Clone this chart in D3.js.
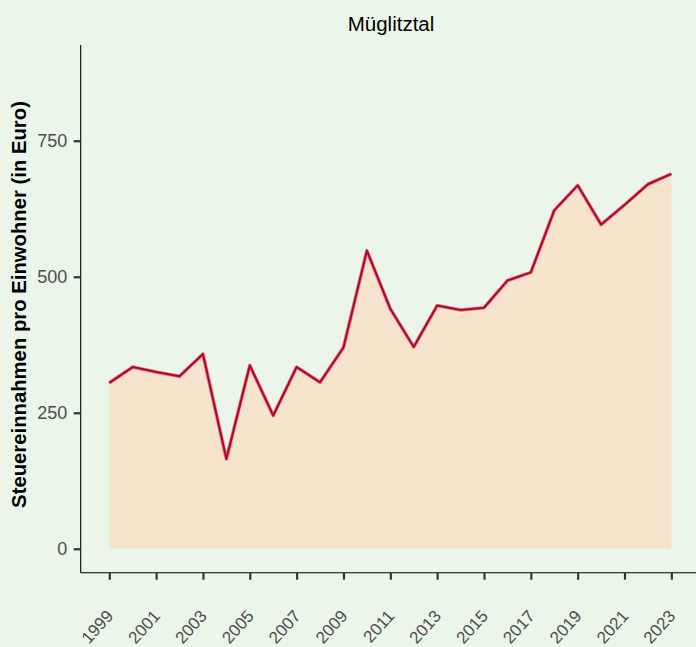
<!DOCTYPE html>
<html>
<head>
<meta charset="utf-8">
<script src="https://cdn.jsdelivr.net/npm/d3@7"></script>
<style>
  body { margin: 0; background: #ecf5ea; }
  svg { display: block; font-family: "Liberation Sans", Arial, sans-serif; }
</style>
</head>
<body>
<svg width="696" height="647"></svg>
<script>
// Steuereinnahmen pro Einwohner, Müglitztal
var years = [1999, 2000, 2001, 2002, 2003, 2004, 2005, 2006, 2007, 2008, 2009, 2010, 2011,
             2012, 2013, 2014, 2015, 2016, 2017, 2018, 2019, 2020, 2021, 2022, 2023];
var values = [305, 334, 325, 317, 358, 165, 337, 245, 334, 306, 370, 548, 441,
              371, 447, 439, 443, 493, 508, 622, 668, 596, 632, 670, 689];
var yTicks = [0, 250, 500, 750];
var xTicks = [1999, 2001, 2003, 2005, 2007, 2009, 2011, 2013, 2015, 2017, 2019, 2021, 2023];

var data = years.map(function(y, i) { return { year: y, value: values[i] }; });

var svg = d3.select("svg"),
    width = +svg.attr("width"),
    height = +svg.attr("height");

var plotLeft = 80.7, plotTop = 45, plotBottom = 572.7;

// ggplot style 5% expansion on both axes
var x = d3.scaleLinear().domain([1997.78, 2024.22]).range([plotLeft, plotLeft + 26.44 * 23.42]);
var y = d3.scaleLinear().domain([-44, 926]).range([plotBottom, plotTop]);

svg.append("rect")
    .attr("width", width)
    .attr("height", height)
    .attr("fill", "#ecf5ea");

var area = d3.area()
    .x(function(d) { return x(d.year); })
    .y0(y(0))
    .y1(function(d) { return y(d.value); });

var line = d3.line()
    .x(function(d) { return x(d.year); })
    .y(function(d) { return y(d.value); });

svg.append("path")
    .datum(data)
    .attr("d", area)
    .attr("fill", "#f5e3cc");

// soft halo under the line
svg.append("path")
    .datum(data)
    .attr("d", line)
    .attr("fill", "none")
    .attr("stroke", "#e07a8a")
    .attr("stroke-width", 3.6)
    .attr("stroke-linejoin", "round");

svg.append("path")
    .datum(data)
    .attr("d", line)
    .attr("fill", "none")
    .attr("stroke", "#b0052b")
    .attr("stroke-width", 2)
    .attr("stroke-linejoin", "round");

// axes
var yAxis = svg.append("g")
    .attr("transform", "translate(" + plotLeft + ",0)")
    .call(d3.axisLeft(y).tickValues(yTicks).tickSize(7).tickPadding(6.5));

var xAxis = svg.append("g")
    .attr("transform", "translate(0," + plotBottom + ")")
    .call(d3.axisBottom(x).tickValues(xTicks).tickSize(7).tickFormat(d3.format("d")));

[yAxis, xAxis].forEach(function(g) {
    g.select(".domain").attr("stroke", "#000").attr("stroke-width", 1.1);
    g.selectAll(".tick line").attr("stroke", "#333").attr("stroke-width", 2.2);
    g.selectAll(".tick text")
        .attr("fill", "#4d4d4d")
        .style("font-size", "18px")
        .style("font-family", "'Liberation Sans', Arial, sans-serif");
});

// domain path reaches the axis ends without outer ticks
yAxis.select(".domain").attr("d", "M0," + plotBottom + "V" + plotTop);
xAxis.select(".domain").attr("d", "M" + plotLeft + ",0H" + width);

xAxis.selectAll(".tick text")
    .attr("text-anchor", "end")
    .attr("dy", "0")
    .attr("y", 0)
    .style("font-size", "17px")
    .attr("transform", "translate(4.5,44) rotate(-48)");

svg.append("text")
    .attr("x", 391)
    .attr("y", 30.5)
    .attr("text-anchor", "middle")
    .attr("fill", "#000")
    .style("font-size", "20.5px")
    .text("Müglitztal");

svg.append("text")
    .attr("transform", "translate(25.5,304.5) rotate(-90)")
    .attr("text-anchor", "middle")
    .attr("fill", "#000")
    .style("font-size", "20.3px")
    .style("font-weight", "bold")
    .text("Steuereinnahmen pro Einwohner (in Euro)");
</script>
</body>
</html>
